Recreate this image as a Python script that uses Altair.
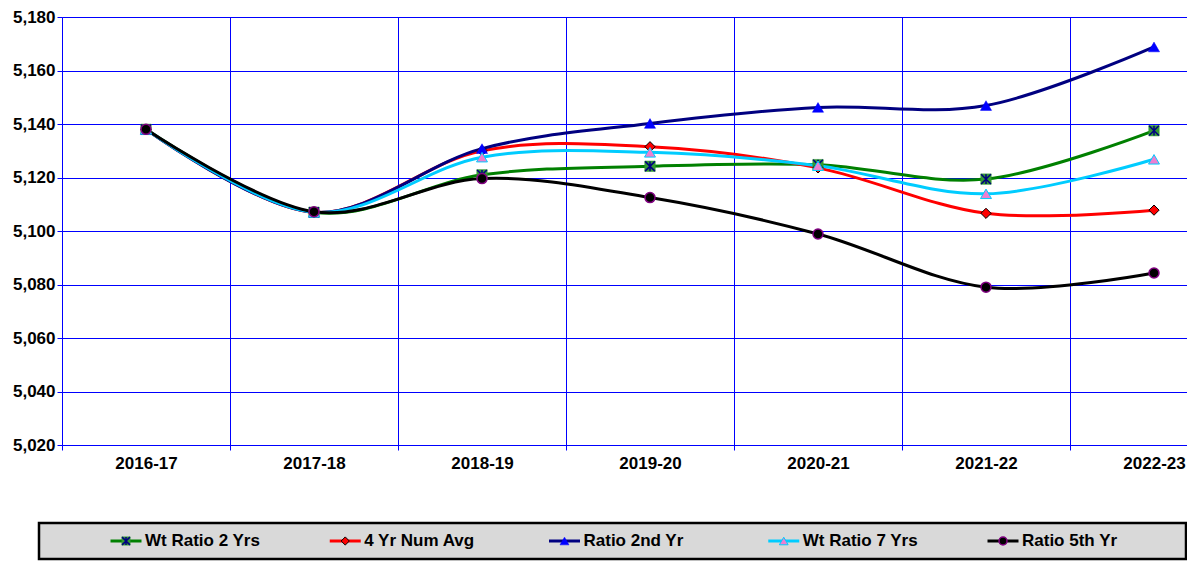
import json
import altair as alt
import pandas as pd

# ---------------- data ----------------
categories = ["2016-17", "2017-18", "2018-19", "2019-20", "2020-21", "2021-22", "2022-23"]
series_names = ["Wt Ratio 2 Yrs", "4 Yr Num Avg", "Ratio 2nd Yr", "Wt Ratio 7 Yrs", "Ratio 5th Yr"]

wt_ratio_2_yrs = [5138.0, 5107.0, 5121.0, 5124.2, 5124.8, 5119.4, 5137.5]
yr4_num_avg = [5138.0, 5107.0, 5130.0, 5131.5, 5123.6, 5106.6, 5107.8]
ratio_2nd_yr = [5138.0, 5107.0, 5130.8, 5140.2, 5146.2, 5146.9, 5168.8]
wt_ratio_7_yrs = [5138.0, 5107.0, 5127.6, 5129.4, 5124.4, 5113.9, 5126.8]
ratio_5th_yr = [5138.0, 5107.2, 5119.6, 5112.5, 5098.9, 5079.0, 5084.3]

y_ticks = [5020, 5040, 5060, 5080, 5100, 5120, 5140, 5160, 5180]
# category boundaries (gridlines between categories)
boundaries = [-0.5, 0.5, 1.5, 2.5, 3.5, 4.5, 5.5]

values = [wt_ratio_2_yrs, yr4_num_avg, ratio_2nd_yr, wt_ratio_7_yrs, ratio_5th_yr]
rows = []
for name, vals in zip(series_names, values):
    for i, (c, v) in enumerate(zip(categories, vals)):
        rows.append({"series": name, "i": i, "cat": c, "v": v})
df = pd.DataFrame(rows)

# ---------------- styles ----------------
FONT = "Liberation Sans"
GRID = "#0000ff"
W, H = 1125, 428
TOP = 9
STEP = 168.0
STAR = "M-1,-1L1,1M-1,1L1,-1M0,-1L0,1"

styles = {
    "Wt Ratio 2 Yrs": {"line": "#008000", "marks": [
        {"shape": "square", "fill": "#339933", "stroke": "#339933", "sw": 0.5, "k": 1.1},
        {"shape": STAR, "fill": None, "stroke": "#000080", "sw": 1.5, "k": 0.95}]},
    "4 Yr Num Avg": {"line": "#ff0000", "marks": [
        {"shape": "diamond", "fill": "#ff0000", "stroke": "#000000", "sw": 1.0, "k": 1.05}]},
    "Ratio 2nd Yr": {"line": "#000080", "marks": [
        {"shape": "triangle-up", "fill": "#0000ff", "stroke": "#0000ff", "sw": 0.5, "k": 1.25}]},
    "Wt Ratio 7 Yrs": {"line": "#00ccff", "marks": [
        {"shape": "triangle-up", "fill": "#ec7fd0", "stroke": "#00ccff", "sw": 1.0, "k": 1.2}]},
    "Ratio 5th Yr": {"line": "#000000", "marks": [
        {"shape": "circle", "fill": "#000000", "stroke": "#800080", "sw": 1.5, "k": 1.0}]},
}


def point_mark(m, base_size):
    kw = dict(shape=m["shape"], size=base_size * m["k"], strokeWidth=m["sw"],
              stroke=m["stroke"], opacity=1)
    if m["fill"] is None:
        kw.update(filled=False, fill="transparent")
    else:
        kw.update(filled=True, fill=m["fill"])
    return kw


x_scale = alt.Scale(domain=[-0.5, -0.5 + W / STEP], nice=False, zero=False)
y_scale = alt.Scale(domain=[5020, 5180], nice=False, zero=False)

label_expr = "%s[round(datum.value + 0.5)]" % json.dumps(categories)

x_axis = alt.Axis(values=boundaries, grid=True, gridColor=GRID, gridWidth=1,
                  tickColor=GRID, tickSize=5, tickWidth=1, domain=False,
                  labelExpr=label_expr, labelOffset=STEP / 2, labelFlush=False,
                  labelFont=FONT, labelFontSize=17, labelFontWeight="bold",
                  labelColor="#000000", labelPadding=5, title=None)
y_axis = alt.Axis(values=y_ticks, format=",.0f", grid=True, gridColor=GRID, gridWidth=1,
                  domainColor=GRID, domainWidth=1, tickColor=GRID, tickSize=5,
                  labelFont=FONT, labelFontSize=17, labelFontWeight="bold",
                  labelColor="#000000", labelPadding=2, labelFlush=False, title=None)

X = alt.X("i:Q", scale=x_scale, axis=x_axis)
Y = alt.Y("v:Q", scale=y_scale, axis=y_axis)

base = alt.Chart(df)

data_layers = []
for name in series_names:
    st = styles[name]
    sub = base.transform_filter(alt.datum.series == name)
    data_layers.append(
        sub.mark_line(interpolate="cardinal", strokeWidth=3, color=st["line"]).encode(x=X, y=Y)
    )
for name in series_names:
    st = styles[name]
    sub = base.transform_filter(alt.datum.series == name)
    for m in st["marks"]:
        data_layers.append(sub.mark_point(**point_mark(m, 100)).encode(x=X, y=Y))

main = alt.layer(*data_layers)

# ---------------- legend ----------------
legend_df = pd.DataFrame({"series": series_names, "li": list(range(len(series_names)))})
LSTEP = 219.25
lx0 = 64.0
leg_scale = alt.Scale(domain=[-lx0 / LSTEP, (W - lx0) / LSTEP], nice=False, zero=False)
# legend box in page pixels 523..559, converted to plot coordinates
PLOT_TOP = 8 + TOP
LY = 541 - PLOT_TOP

box = alt.Chart(pd.DataFrame({"k": [0]})).mark_rect(
    fill="#d9d9d9", stroke="#000000", strokeWidth=2.5
).encode(x=alt.value(-23), x2=alt.value(1124),
         y=alt.value(523 - PLOT_TOP), y2=alt.value(559 - PLOT_TOP))

leg_layers = [box]
lbase = alt.Chart(legend_df)
LX = alt.X("li:Q", scale=leg_scale, axis=None)
for name in series_names:
    st = styles[name]
    sub = lbase.transform_filter(alt.datum.series == name)
    enc = dict(x=LX, y=alt.value(LY))
    leg_layers.append(
        sub.mark_point(shape="stroke", size=31 * 31, strokeWidth=3, stroke=st["line"],
                       filled=False, opacity=1).encode(**enc)
    )
    for m in st["marks"]:
        leg_layers.append(sub.mark_point(**point_mark(m, 64)).encode(**enc))
    leg_layers.append(
        sub.mark_text(align="left", baseline="middle", dx=19, font=FONT, fontSize=17,
                      fontWeight="bold", color="#000000").encode(text="series:N", **enc)
    )

legend = alt.layer(*leg_layers)

chart = alt.layer(main, legend).resolve_scale(x="independent").properties(
    width=W, height=H,
    autosize=alt.AutoSizeParams(type="none"),
    padding={"left": 54, "top": TOP, "right": 0, "bottom": 553 - TOP - H},
    background="#ffffff",
).configure_view(stroke=None)

chart.save("out.html", embed_options={"renderer": "svg", "actions": False})
